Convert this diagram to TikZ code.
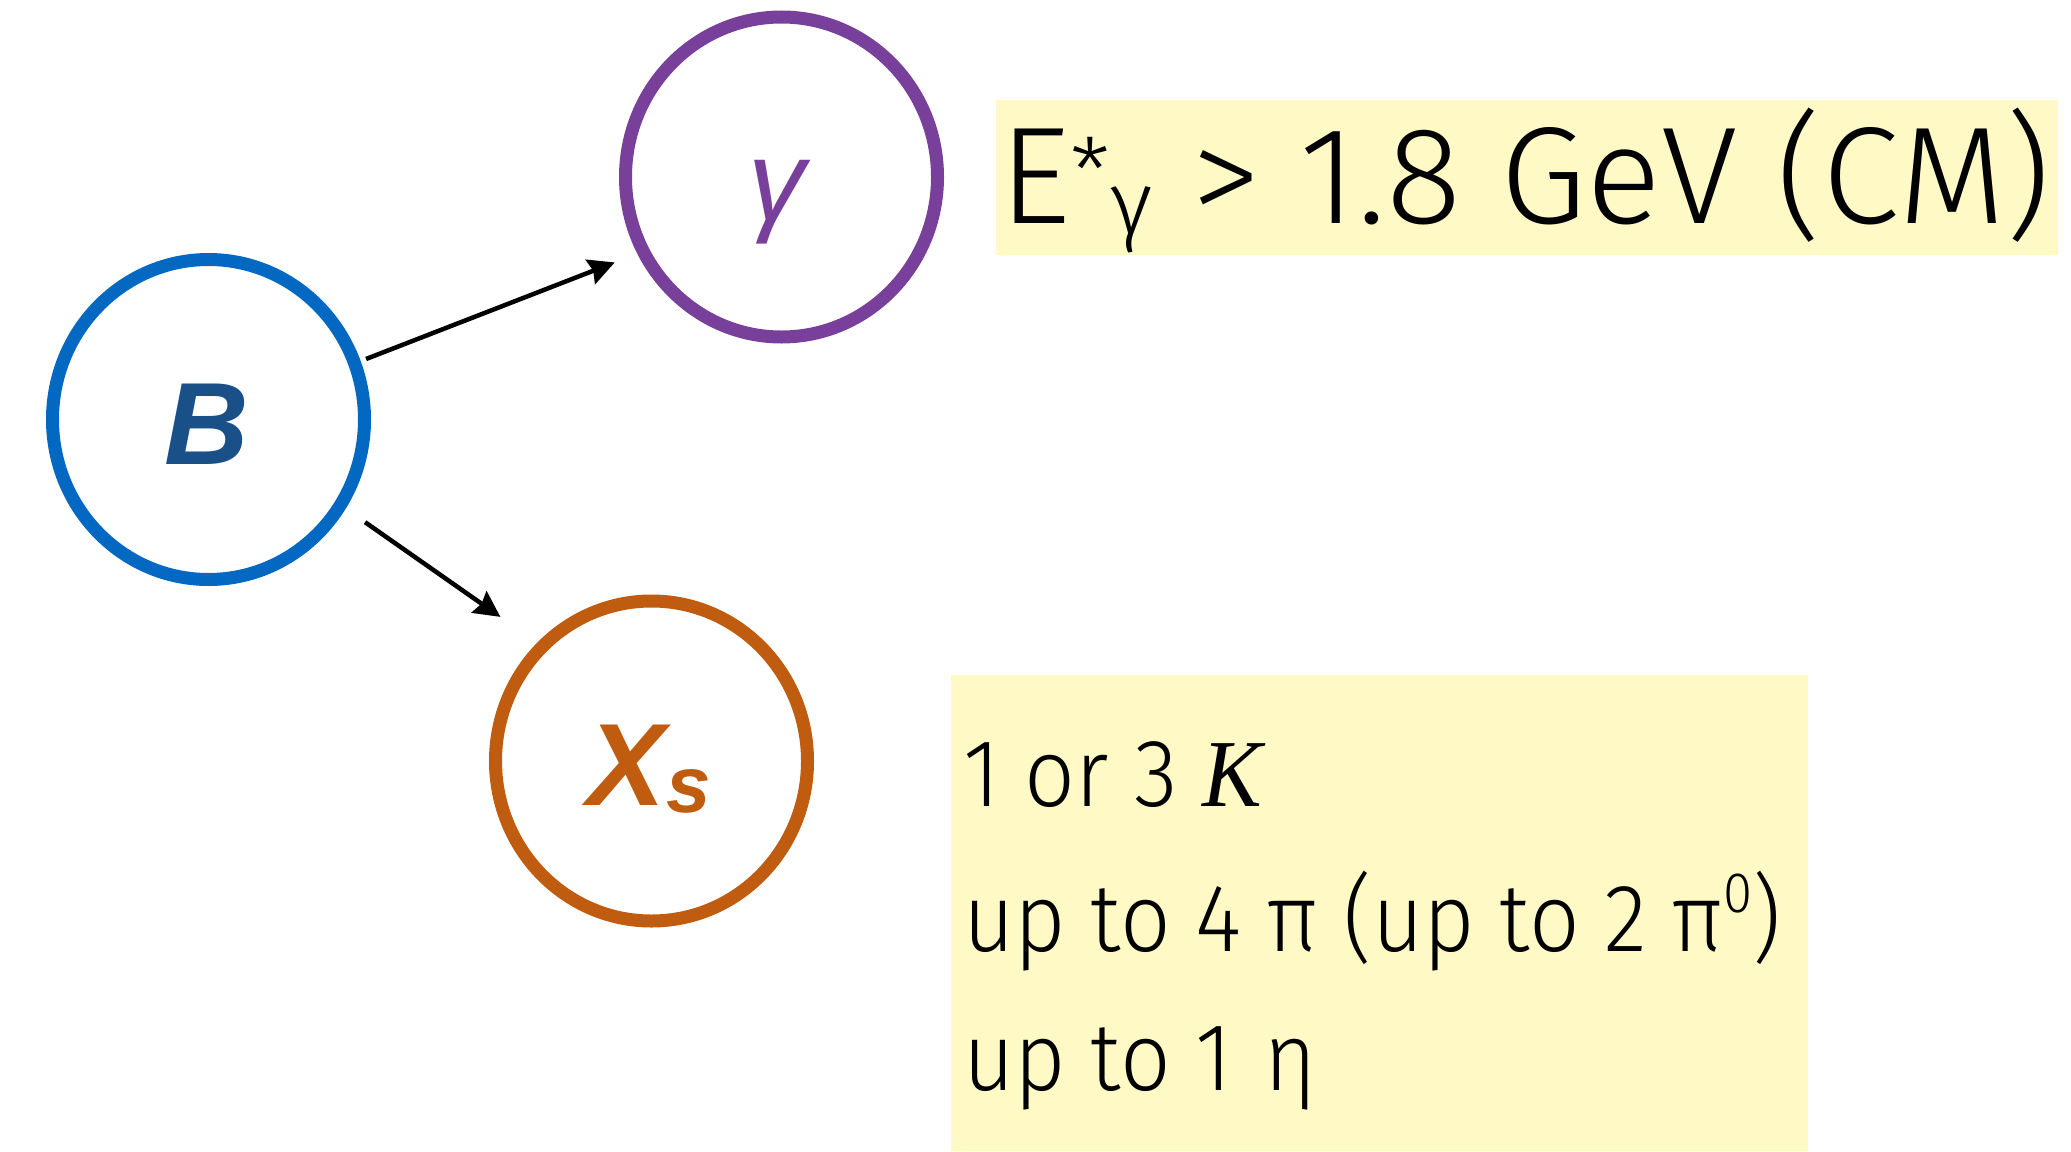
\documentclass[tikz,border=0pt]{standalone}
\usepackage{fontspec}
\usepackage{graphicx}
\usetikzlibrary{shapes.geometric,arrows.meta,calc}
\setmainfont{Liberation Sans}
\newfontfamily\lightf{Fira Sans Light}
\newfontfamily\serift{Liberation Serif}
\definecolor{bblue}{RGB}{3,104,193}
\definecolor{bdark}{RGB}{24,80,135}
\definecolor{gpurple}{RGB}{121,64,155}
\definecolor{xorange}{RGB}{191,92,15}
\definecolor{yel}{RGB}{255,250,197}
\tikzset{
  particle/.style={ellipse, draw, line width=13pt, minimum width=312pt, minimum height=320pt, inner sep=0pt},
  arr/.style={line width=4.5pt, -{Stealth[length=26pt,width=26pt,inset=3pt]}},
  ybox/.style={fill=yel, inner sep=0pt, anchor=north west},
  txt/.style={anchor=base west, inner sep=0pt},
}
\begin{document}
\begin{tikzpicture}[x=1pt,y=-1pt]
\useasboundingbox (0,0) rectangle (2071,1151);
% yellow boxes
\node[ybox, minimum width=1062pt, minimum height=155pt] (box1) at (996,100) {};
\node[ybox, minimum width=857pt, minimum height=476pt] (box2) at (951,675) {};
% particles
\node[particle, draw=bblue] (B) at (208.5,419.5) {};
\node[particle, draw=gpurple] (G) at (781.5,177) {};
\node[particle, draw=xorange] (X) at (651.5,761) {};
\node[anchor=base, inner sep=0pt, text=bdark, font=\fontsize{117}{117}\selectfont\bfseries\itshape] (Blab) at ($(B.center)+(-2,44.5)$) {B};
\node[anchor=base, inner sep=0pt, text=gpurple, font=\fontsize{114}{114}\selectfont\itshape] (Glab) at ($(G.center)+(-5,43)$) {γ};
\node[anchor=base, inner sep=0pt, text=xorange, font=\fontsize{117}{117}\selectfont\bfseries\itshape] (Xlab) at ($(X.center)+(-2,44)$) {X\kern1pt\raisebox{-7pt}{\fontsize{80}{80}\selectfont s}};
% arrows
\draw[arr, shorten <=5.8pt, shorten >=24.2pt] (B.21.3) -- (G.208.6);
\draw[arr, shorten <=23.6pt, shorten >=44.9pt] (B.-33) -- (X.134);
% texts
\node[txt] (t1) at (999,223) {\scalebox{1.012}[1]{\lightf\fontsize{138}{140}\selectfont E\raisebox{20pt}{\fontsize{90}{90}\selectfont *}\raisebox{-11pt}{\fontsize{90}{90}\selectfont γ} > 1.8 GeV (CM)}};
\node[txt] (l1) at (963,806) {\scalebox{0.93}[1]{\lightf\fontsize{96}{96}\selectfont 1 or 3 {\serift\itshape K}}};
\node[txt] (l2) at (963,951) {\scalebox{0.925}[1]{\lightf\fontsize{96}{96}\selectfont up to 4 π (up to 2 π\raisebox{39pt}{\fontsize{57}{57}\selectfont 0})}};
\node[txt] (l3) at (963,1090) {\scalebox{0.925}[1]{\lightf\fontsize{96}{96}\selectfont up to 1\hspace{8pt} η}};
\end{tikzpicture}
\end{document}
